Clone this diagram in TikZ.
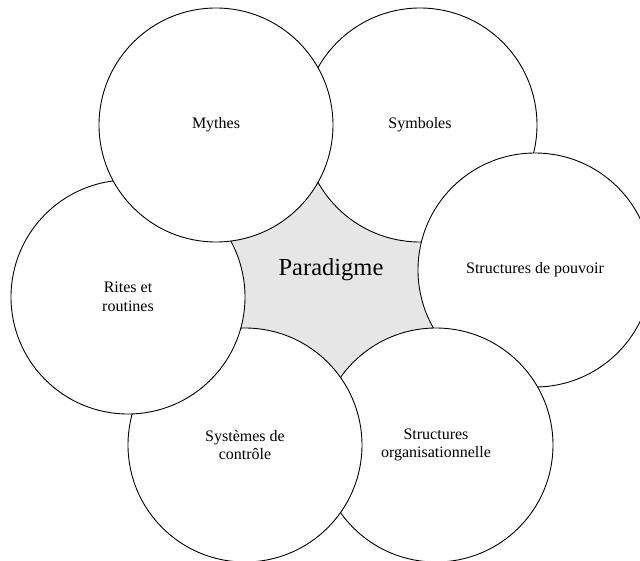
\documentclass[tikz,border=0pt]{standalone}
\usepackage{fontspec}
\setmainfont{Liberation Serif}
\begin{document}
\begin{tikzpicture}[x=1pt,y=-1pt,
  bubble/.style={circle, draw=black, line width=0.9pt, fill=white, minimum size=234pt, inner sep=0pt, align=center, font=\fontsize{16}{18.5}\selectfont},
  core/.style={font=\fontsize{24.5}{28}\selectfont}]
\useasboundingbox (0,0) rectangle (640,560);
\clip (0,0) rectangle (640,560);
\coordinate (cm) at (216,125);
\coordinate (cs) at (420,125);
\coordinate (cp) at (535,270);
\coordinate (co) at (436,445);
\coordinate (cc) at (245,445);
\coordinate (cr) at (128,297);
\fill[fill={rgb,255:red,230;green,230;blue,230}] (cm) -- (cs) -- (cp) -- (co) -- (cc) -- (cr) -- cycle;
\node[bubble] (symboles) at (cs) {Symboles};
\node[bubble] (pouvoir) at (cp) {Structures de pouvoir};
\node[bubble] (orga) at (co) {Structures\\organisationnelle};
\node[bubble] (controle) at (cc) {Systèmes de\\contrôle};
\node[bubble] (rites) at (cr) {Rites et\\routines};
\node[bubble] (mythes) at (cm) {Mythes};
\node[core] (para) at (331,270) {Paradigme};
\end{tikzpicture}
\end{document}
